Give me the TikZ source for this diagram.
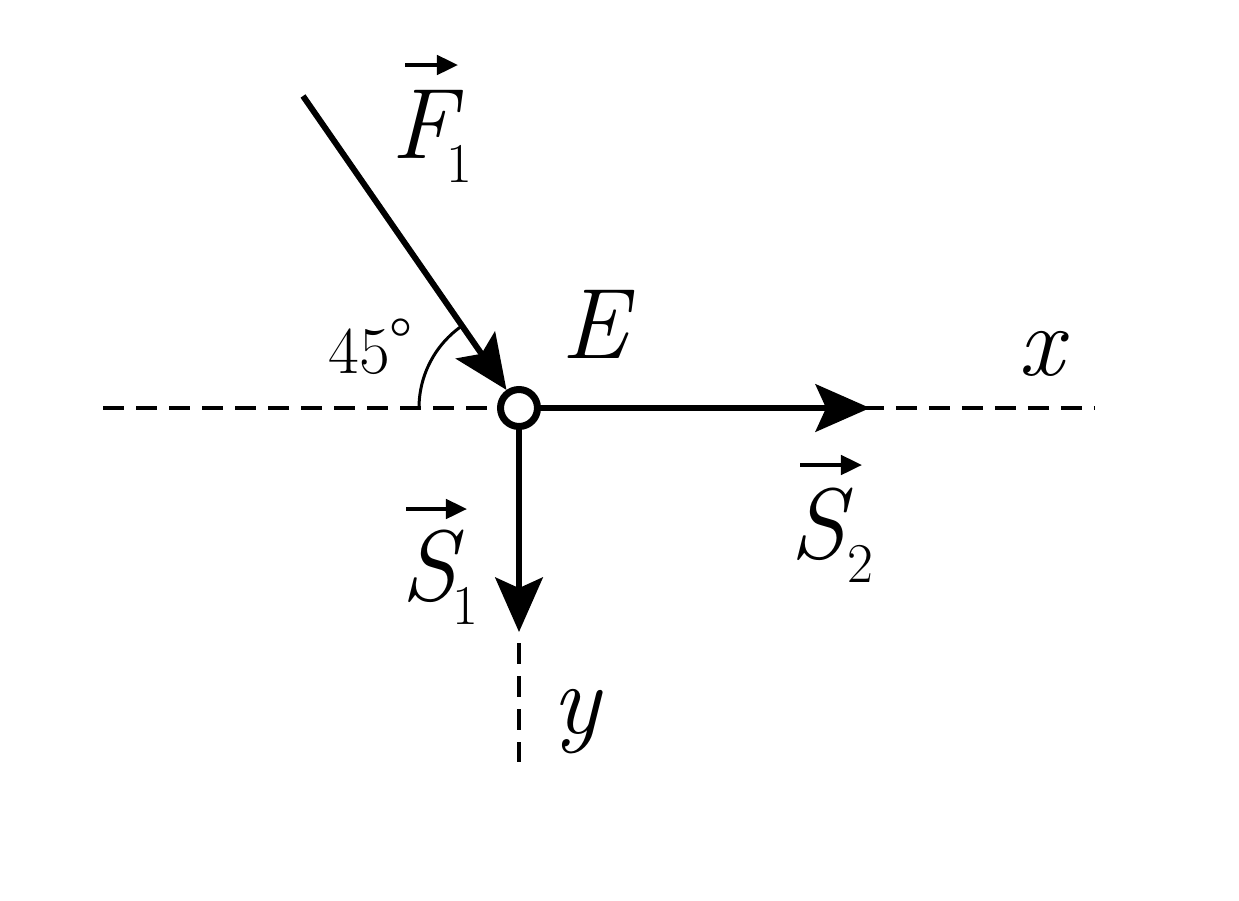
\documentclass[tikz,border=0pt]{standalone}
\usetikzlibrary{arrows.meta}
\newcommand\subsc[2]{\kern#1\raisebox{-14pt}{\fontsize{32}{32}\selectfont\upshape #2}}
\begin{document}
\begin{tikzpicture}[x=0.02cm,y=-0.02cm,
  force/.style={line width=3.4pt, -{Stealth[length=31pt,width=27pt,inset=6pt]}},
  axisline/.style={line width=2.2pt, dash pattern=on 12pt off 6.8pt},
  vecarr/.style={line width=2.2pt, -{Triangle[length=12pt,width=11pt]}},
  lab/.style={inner sep=0pt, anchor=base west, font=\fontsize{57}{60}\selectfont\itshape},
  anglab/.style={inner sep=0pt, anchor=base west, font=\fontsize{38}{40}\selectfont},
  joint/.style={circle, draw, fill=white, line width=4pt, inner sep=0pt, minimum size=0.74cm},
  anglearc/.style={line width=1.7pt}
]
\useasboundingbox (0,0) rectangle (1239,900);
% axes
\coordinate (xl) at (103,408);
\coordinate (xr) at (1095,408);
\coordinate (yt) at (519,643);
\coordinate (yb) at (519,762);
\draw[axisline] (xl) -- (xr);
\draw[axisline] (yt) -- (yb);
% angle arc
\draw[anglearc] (419,408) arc[start angle=180, end angle=235.3, radius=100];
% joint
\node[joint] (E) at (519,408) {};
% forces
\coordinate (f1s) at (303,96);
\coordinate (s2e) at (870,408);
\coordinate (s1e) at (519,632);
\draw[force, line cap=butt] (f1s) -- (E);
\draw[force] (E) -- (s2e);
\draw[force] (E) -- (s1e);
% labels
\node[lab] (F1lab) at (391,158) {F\subsc{-5pt}{1}};
\draw[vecarr] (405,65) -- (458,65);
\node[lab] (Elab) at (561,358) {E};
\node[lab] (S1lab) at (401,600) {S\subsc{-2pt}{1}};
\draw[vecarr] (406,509) -- (467,509);
\node[lab] (S2lab) at (790,558) {S\subsc{1pt}{2}};
\draw[vecarr] (800,465) -- (862,465);
\node[lab] (xlab) at (1018,375) {x};
\node[lab] (ylab) at (552,733) {y};
\node[anglab] (ang) at (328,373) {45\raisebox{5pt}{°}};
\end{tikzpicture}
\end{document}
